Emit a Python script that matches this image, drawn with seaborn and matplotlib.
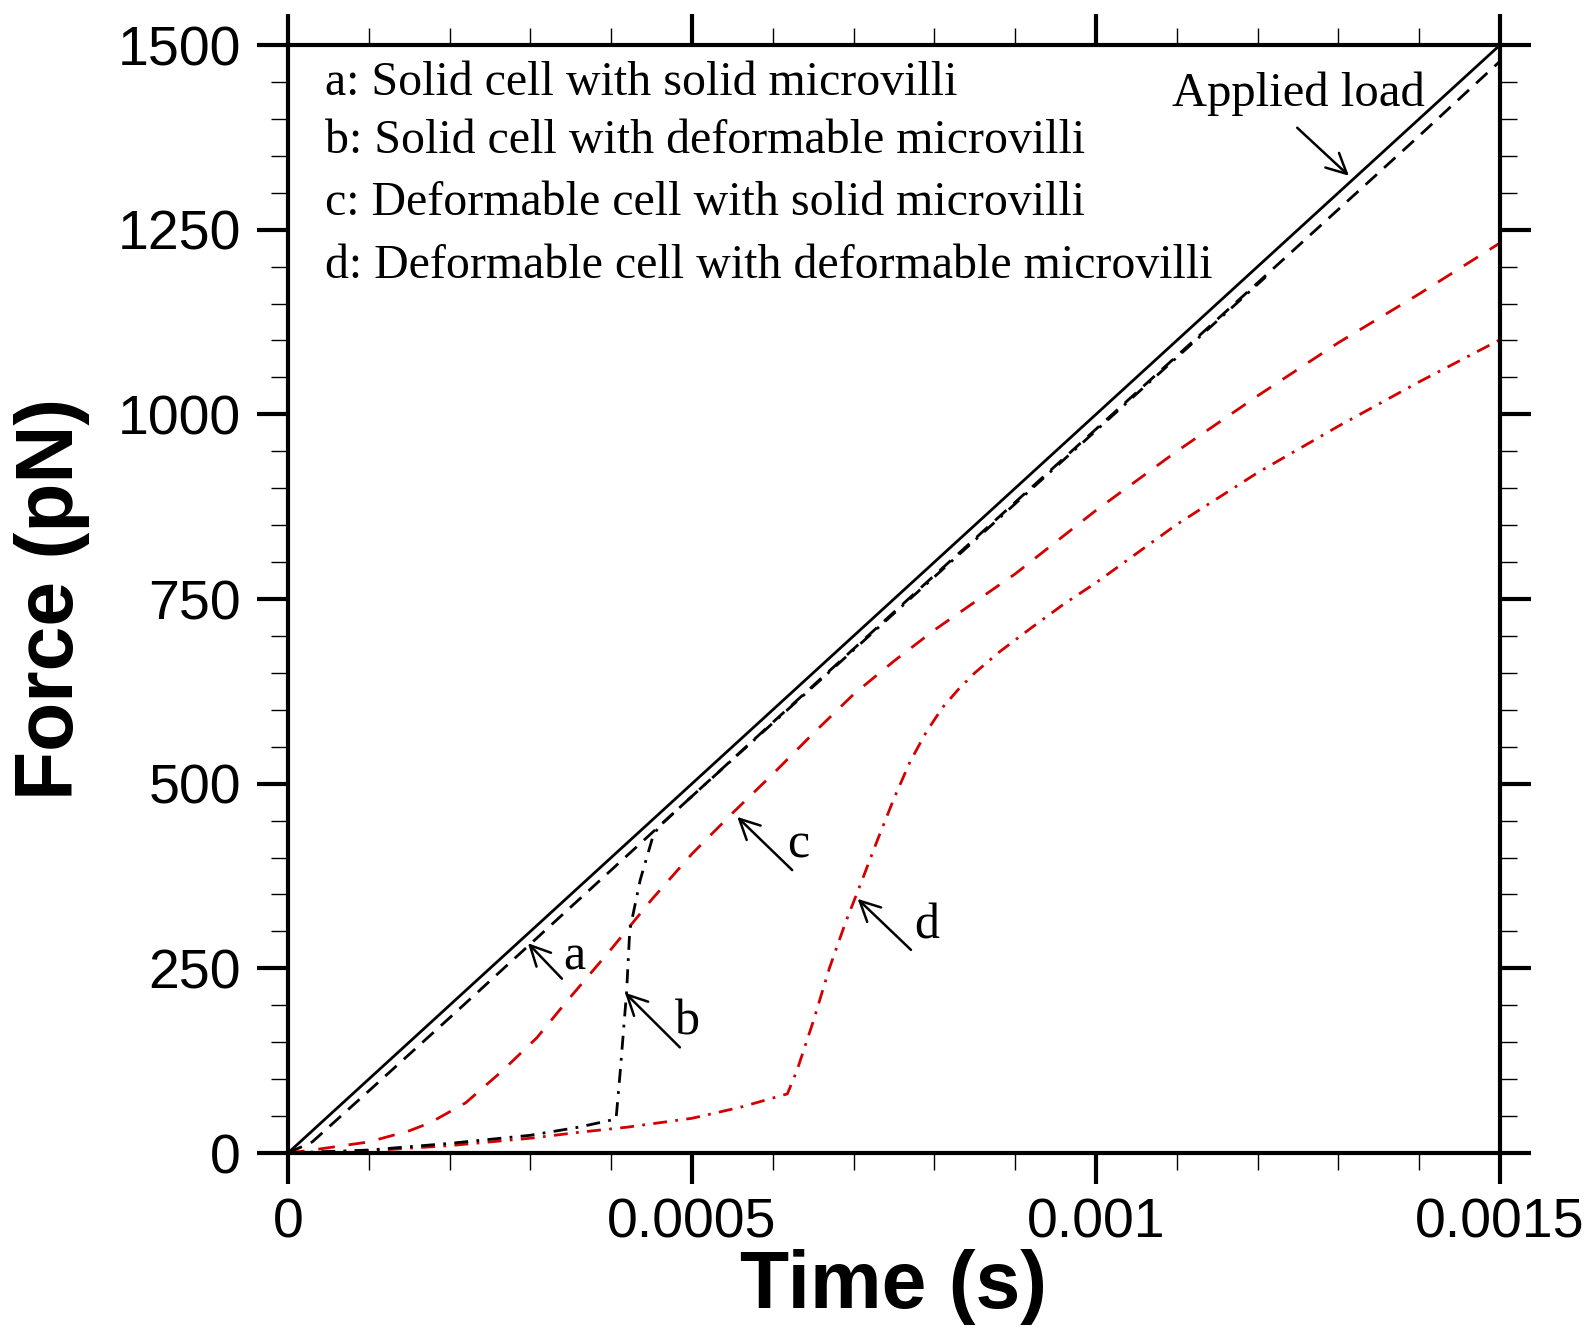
import numpy as np
import pandas as pd
import matplotlib
matplotlib.use("Agg")
import matplotlib.pyplot as plt
import seaborn as sns
from matplotlib.ticker import FixedLocator, MultipleLocator

# ---------------- data ----------------
applied_t = [0.0, 0.0015]
applied_F = [0.0, 1500.0]

a_t = [0, 0.00003, 0.0001, 0.0002, 0.0003, 0.0004, 0.0005, 0.0006, 0.0008, 0.001, 0.0012, 0.0014, 0.0015]
a_F = [0, 15, 84, 183, 283, 383, 483, 583, 782, 980, 1178, 1377, 1478]

b_t = [0, 0.0001, 0.0002, 0.0003, 0.00036, 0.000406, 0.000411, 0.000419, 0.000423, 0.000436,
       0.000452, 0.00046, 0.0005, 0.0006, 0.0008, 0.001, 0.0012, 0.00121]
b_F = [0, 4, 13, 24, 35, 46, 108, 217, 302, 370, 430, 443, 483, 582, 780, 978, 1176, 1186]

c_t = [0, 0.00003, 0.0001, 0.00015, 0.000176, 0.00022, 0.000264, 0.000308, 0.000344, 0.0004,
       0.00045, 0.0005, 0.00055, 0.0006, 0.00065, 0.0007, 0.00075, 0.0008, 0.0009, 0.001, 0.0011,
       0.0012, 0.0013, 0.0014, 0.0015]
c_F = [0, 4, 15, 30, 41, 68, 110, 156, 204, 276, 343, 405, 460, 513, 568, 621, 666, 708, 784,
       870, 950, 1025, 1097, 1163, 1232]

d_t = [0, 0.0001, 0.0002, 0.0003, 0.00036, 0.00042, 0.0005, 0.00056, 0.000618, 0.00063, 0.00065,
       0.00067, 0.00069, 0.00071, 0.00073, 0.00075, 0.00077, 0.00079, 0.00081, 0.00083, 0.00085,
       0.00088, 0.00092, 0.00096, 0.001, 0.0011, 0.0012, 0.0013, 0.0014, 0.0015]
d_F = [0, 3, 10, 20, 28, 35, 47, 62, 80, 112, 178, 250, 312, 368, 425, 480, 530, 570, 603, 628,
       650, 678, 711, 743, 772, 851, 921, 984, 1044, 1101]

legend_lines = ["a: Solid cell with solid microvilli",
                "b: Solid cell with deformable microvilli",
                "c: Deformable cell with solid microvilli",
                "d: Deformable cell with deformable microvilli"]

x_ticks = [0, 0.0005, 0.001, 0.0015]
x_ticklabels = ["0", "0.0005", "0.001", "0.0015"]
y_ticks = [0, 250, 500, 750, 1000, 1250, 1500]

# ---------------- style ----------------
sns.set_style("ticks")
plt.rcParams['font.family'] = ['Liberation Sans', 'DejaVu Sans']
plt.rcParams['text.color'] = 'black'
plt.rcParams['axes.labelcolor'] = 'black'
plt.rcParams['xtick.color'] = 'black'
plt.rcParams['ytick.color'] = 'black'

RED = "#d40000"
W, H = 1593, 1327
fig = plt.figure(figsize=(W / 100, H / 100), dpi=100)
ax = fig.add_axes([288 / W, 1 - 1153 / H, (1500 - 288) / W, (1153 - 45) / H])

lw = 2.0
sns.lineplot(x=applied_t, y=applied_F, ax=ax, color="black", lw=2.0, estimator=None, sort=False)
sns.lineplot(x=a_t, y=a_F, ax=ax, color="black", lw=lw, estimator=None, sort=False).lines[-1].set_dashes((5.5, 3.5))
sns.lineplot(x=c_t, y=c_F, ax=ax, color=RED, lw=lw, estimator=None, sort=False).lines[-1].set_dashes((6, 5))
sns.lineplot(x=d_t, y=d_F, ax=ax, color=RED, lw=lw, estimator=None, sort=False).lines[-1].set_dashes((5, 3, 1, 3))
sns.lineplot(x=b_t, y=b_F, ax=ax, color="black", lw=lw, estimator=None, sort=False).lines[-1].set_dashes((5, 3, 1, 3))

ax.set_xlim(0, 0.0015)
ax.set_ylim(0, 1500)

# ticks
ax.xaxis.set_major_locator(FixedLocator(x_ticks))
ax.set_xticklabels(x_ticklabels)
ax.xaxis.set_minor_locator(MultipleLocator(0.0001))
ax.yaxis.set_major_locator(FixedLocator(y_ticks))
ax.set_yticklabels([str(v) for v in y_ticks])
ax.yaxis.set_minor_locator(MultipleLocator(50))
ax.tick_params(which="both", direction="out", top=True, right=True, bottom=True, left=True,
               labeltop=False, labelright=False, colors="black")
ax.tick_params(which="major", length=22, width=3.0, labelsize=40)
ax.tick_params(which="minor", length=12, width=1.0)
ax.tick_params(axis="y", which="major", pad=12)
ax.tick_params(axis="x", which="major", pad=10)
for s in ax.spines.values():
    s.set_visible(True)
    s.set_linewidth(3.0)
    s.set_color("black")

ax.set_xlabel("Time (s)", fontsize=58, fontweight="bold", labelpad=0, color="black")
ax.set_ylabel("Force (pN)", fontsize=58, fontweight="bold", labelpad=20, color="black")

# legend text block
serif = ['Liberation Serif', 'DejaVu Serif']
baselines = [95, 153, 215, 278]
for txt, yb in zip(legend_lines, baselines):
    ax.text(0.0305, (1153 - yb) / 1108, txt, transform=ax.transAxes, fontsize=34.5,
            family=serif, va="baseline", ha="left", color="black")

arrow_kw = dict(arrowstyle="->", lw=1.8, color="black", mutation_scale=36,
                shrinkA=0, shrinkB=0)

# Applied load
ax.annotate("", xy=(0.001313, 1323), xytext=(0.001249, 1388), arrowprops=arrow_kw)
ax.text(0.00125, 1418, "Applied load", fontsize=35, family=serif, ha="center", va="baseline", color="black")

# a, b, c, d pointers
ax.annotate("", xy=(0.000297, 284), xytext=(0.000339, 236), arrowprops=arrow_kw)
ax.text(0.000354, 248, "a", fontsize=36, family=serif, ha="center", va="baseline", color="black")
ax.annotate("", xy=(0.000417, 217), xytext=(0.000485, 143), arrowprops=arrow_kw)
ax.text(0.000495, 160, "b", fontsize=36, family=serif, ha="center", va="baseline", color="black")
ax.annotate("", xy=(0.000556, 455), xytext=(0.000624, 383), arrowprops=arrow_kw)
ax.text(0.000631, 400, "c", fontsize=36, family=serif, ha="center", va="baseline", color="black")
ax.annotate("", xy=(0.000705, 344), xytext=(0.000771, 275), arrowprops=arrow_kw)
ax.text(0.000791, 290, "d", fontsize=36, family=serif, ha="center", va="baseline", color="black")

fig.savefig("out.png", dpi=100)
